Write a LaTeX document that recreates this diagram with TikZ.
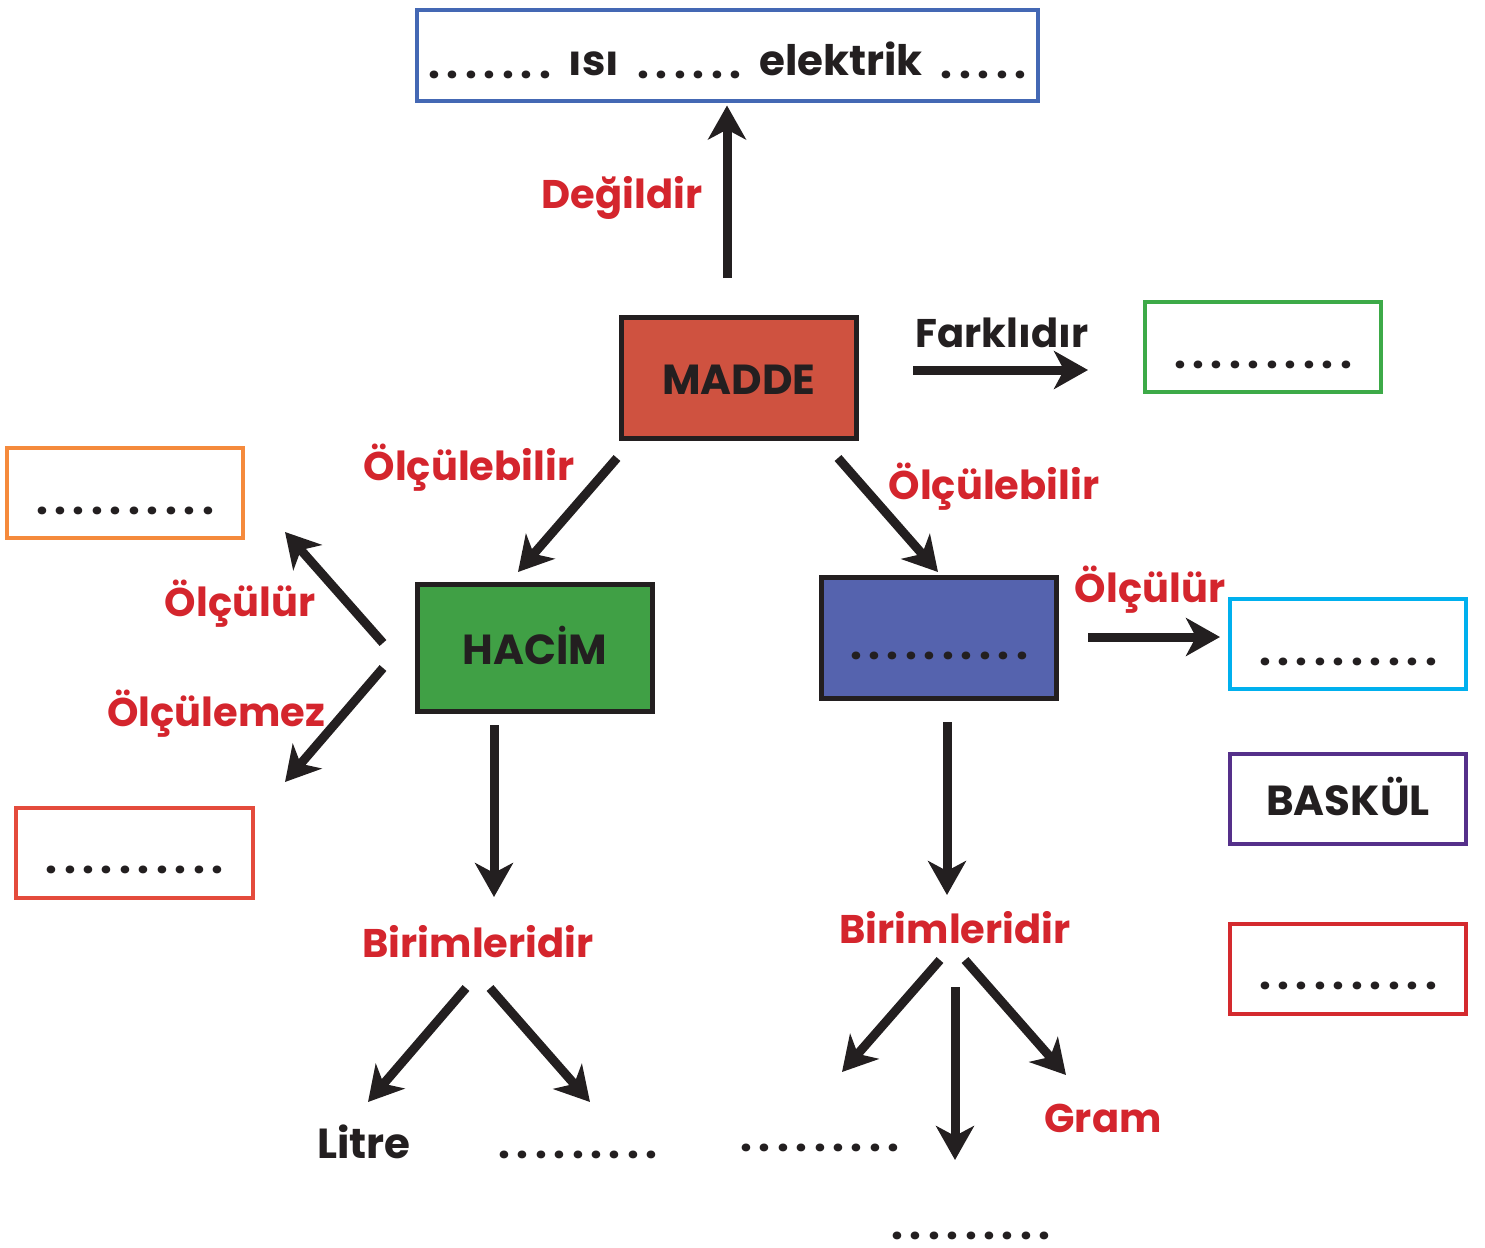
\documentclass[tikz,border=0pt]{standalone}
\usepackage{fontspec}
\setmainfont{Poppins}
\usetikzlibrary{arrows.meta, positioning, calc}

\definecolor{kirmizi}{HTML}{D4252D}
\definecolor{siyah}{HTML}{231F20}
\definecolor{mavicer}{HTML}{4468B4}
\definecolor{maddekir}{HTML}{CF5240}
\definecolor{yesil}{HTML}{3DAA48}
\definecolor{turuncu}{HTML}{F58A3C}
\definecolor{hacimyes}{HTML}{40A045}
\definecolor{mavidol}{HTML}{5563AE}
\definecolor{kiremit}{HTML}{E44B3C}
\definecolor{camgobegi}{HTML}{00B0EE}
\definecolor{mor}{HTML}{55308A}
\definecolor{alkir}{HTML}{D42A2E}

\newcommand{\noktalar}[1]{\foreach \k in {2,...,#1}{\raisebox{-1.5pt}{.}\hspace{3.3pt}}\raisebox{-1.5pt}{.}}

\tikzset{
  kutu/.style={draw, line width=2pt, fill=white, minimum width=118pt, minimum height=45pt, inner sep=0pt, text height=18pt, text depth=2pt, text=siyah},
  bos/.style={kutu, text height=19pt, text depth=1pt},
  dolu/.style={kutu, draw=siyah, line width=2.5pt, minimum width=117.5pt, minimum height=60.5pt},
  etiket/.style={text=kirmizi, inner sep=0pt, font=\bfseries\fontsize{20}{24}\selectfont},
  yazi/.style={text=siyah, inner sep=0pt},
  ok/.style={->, >={Stealth[length=17pt, width=19pt, inset=5pt]}, line width=4.5pt, draw=siyah},
}

\begin{document}
\begin{tikzpicture}[x=0.5pt, y=-0.5pt, font=\bfseries\fontsize{21}{25}\selectfont]
  \useasboundingbox (0,0) rectangle (1485,1248);

  % kutular
  \node[kutu, draw=mavicer, minimum width=310.5pt, minimum height=45.5pt, text height=19.5pt, text depth=0pt] (ust) at (727.5,55.5)
    {\noktalar{7}\hspace{9pt}ısı\hspace{9pt}\noktalar{6}\hspace{9pt}elektrik\hspace{9pt}\noktalar{5}};
  \node[dolu, fill=maddekir] (madde) at (739,378) {MADDE};
  \node[bos, draw=yesil] (fark) at (1263,347) {\noktalar{10}};
  \node[bos, draw=turuncu] (turuncukutu) at (125,493) {\noktalar{10}};
  \node[dolu, fill=hacimyes, minimum height=63.5pt] (hacim) at (535,648) {HACİM};
  \node[dolu, fill=mavidol, text height=19pt, text depth=1pt] (mavi) at (939,638) {\noktalar{10}};
  \node[bos, draw=kiremit, minimum width=118.5pt] (altkutu) at (134.5,852.5) {\noktalar{10}};
  \node[bos, draw=camgobegi] (cam) at (1348,644) {\noktalar{10}};
  \node[kutu, draw=mor] (baskul) at (1348,799) {BASKÜL};
  \node[bos, draw=alkir] (sagkutu) at (1348,968.5) {\noktalar{10}};

  % etiketler
  \node[etiket] (degil) at (622,198) {Değildir};
  \node[etiket, text=siyah] (farkli) at (1002,333) {Farklıdır};
  \node[etiket] (olc1) at (469,468) {Ölçülebilir};
  \node[etiket] (olc2) at (994,487) {Ölçülebilir};
  \node[etiket] (olcur1) at (240,604) {Ölçülür};
  \node[etiket] (olcmez) at (216,714) {Ölçülemez};
  \node[etiket] (olcur2) at (1150,590) {Ölçülür};
  \node[etiket] (birim1) at (478,942) {Birimleridir};
  \node[etiket] (birim2) at (955,928) {Birimleridir};
  \node[yazi] (litre) at (364,1142) {Litre};
  \node[yazi] (nokta1) at (578,1155) {\noktalar{9}};
  \node[yazi] (nokta2) at (820,1148) {\noktalar{9}};
  \node[etiket] (gram) at (1103,1118) {Gram};
  \node[yazi] (nokta3) at (971,1236) {\noktalar{9}};

  % oklar
  \draw[ok] ([shift={(-12,-100)}]madde.center) -- ([shift={(-0.5,50)}]ust.center);
  \draw[ok] ([shift={(174,-8)}]madde.center) -- ([shift={(-175,23)}]fark.center);
  \draw[ok] ([shift={(-122,80)}]madde.center) -- ([shift={(-17,-76)}]hacim.center);
  \draw[ok] ([shift={(99,80)}]madde.center) -- ([shift={(-1,-66)}]mavi.center);
  \draw[ok] ([shift={(-152,-5)}]hacim.center) -- ([shift={(160,39)}]turuncukutu.center);
  \draw[ok] ([shift={(-152,20)}]hacim.center) -- ([shift={(150.5,-70.5)}]altkutu.center);
  \draw[ok] ([shift={(149,-1)}]mavi.center) -- ([shift={(-128,-7)}]cam.center);
  \draw[ok] ([shift={(-41,77)}]hacim.center) -- ([shift={(16,-45)}]birim1.center);
  \draw[ok] ([shift={(-12,46)}]birim1.center) -- ([shift={(4,-40)}]litre.center);
  \draw[ok] ([shift={(12,46)}]birim1.center) -- ([shift={(12,-53)}]nokta1.center);
  \draw[ok] ([shift={(8,84)}]mavi.center) -- ([shift={(-8,-33)}]birim2.center);
  \draw[ok] ([shift={(-15,32)}]birim2.center) -- ([shift={(22,-76)}]nokta2.center);
  \draw[ok] ([shift={(10,32)}]birim2.center) -- ([shift={(-37,-43)}]gram.center);
  \draw[ok] ([shift={(0,59)}]birim2.center) -- ([shift={(-16,-76)}]nokta3.center);
\end{tikzpicture}
\end{document}
